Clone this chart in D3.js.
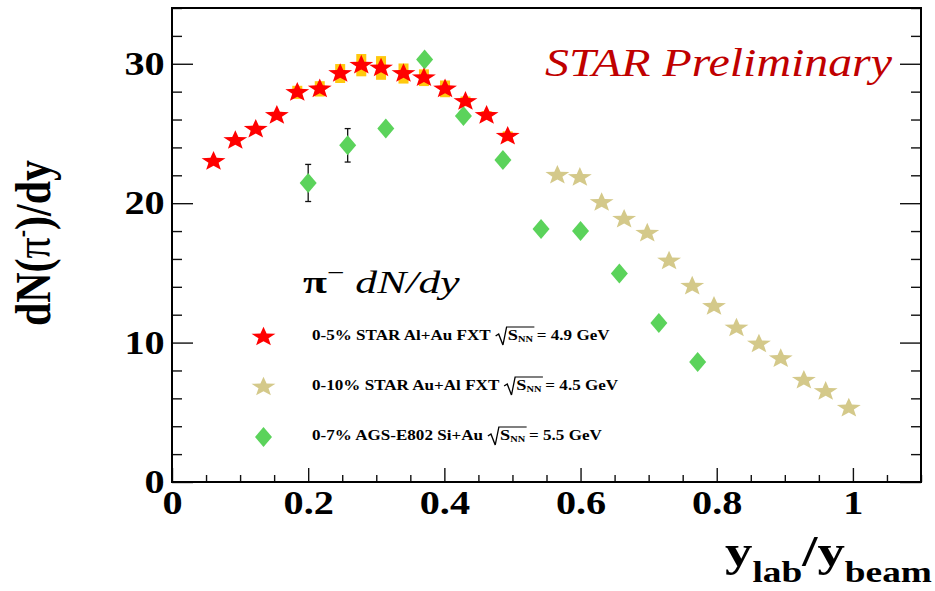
<!DOCTYPE html>
<html><head><meta charset="utf-8">
<script src="https://cdn.jsdelivr.net/npm/d3@7"></script>
<style>body{margin:0;background:#fff}svg{display:block}</style>
</head><body><svg id="c" width="935" height="591"></svg>
<script>
// ---------------- data ----------------
const xTickValues = [0, 0.2, 0.4, 0.6, 0.8, 1];
const xTickLabels = ["0", "0.2", "0.4", "0.6", "0.8", "1"];
const yTickValues = [0, 10, 20, 30];
const yTickLabels = ["0", "10", "20", "30"];

// 0-5% STAR Al+Au FXT (red stars) with systematic boxes
const alAuX   = [0.061, 0.093, 0.123, 0.154, 0.184, 0.217, 0.247, 0.278, 0.307, 0.340, 0.370, 0.401, 0.431, 0.462, 0.493];
const alAuY   = [23.0, 24.5, 25.3, 26.3, 27.95, 28.2, 29.3, 29.9, 29.7, 29.3, 29.0, 28.2, 27.3, 26.3, 24.8];
const alAuSys = [0.2, 0.2, 0.25, 0.25, 0.47, 0.55, 0.68, 0.8, 0.85, 0.72, 0.6, 0.6, 0.35, 0.3, 0.35];

// 0-10% STAR Au+Al FXT (tan stars)
const auAlX = [0.566, 0.599, 0.631, 0.664, 0.698, 0.730, 0.764, 0.796, 0.829, 0.862, 0.894, 0.928, 0.960, 0.994];
const auAlY = [22.0, 21.85, 20.05, 18.85, 17.85, 15.85, 14.05, 12.6, 11.05, 9.9, 8.85, 7.3, 6.5, 5.3];

// 0-7% AGS-E802 Si+Au (green diamonds)
const agsX   = [0.200, 0.258, 0.314, 0.371, 0.428, 0.486, 0.542, 0.600, 0.657, 0.715, 0.772];
const agsY   = [21.45, 24.15, 25.35, 30.3, 26.25, 23.1, 18.15, 18.0, 14.95, 11.4, 8.6];
const agsErr = [1.33, 1.2, 0.3, 0.3, 0.3, 0.3, 0.3, 0.3, 0.3, 0.3, 0.3];

const legendTexts    = ["0-5% STAR Al+Au FXT", "0-10% STAR Au+Al FXT", "0-7% AGS-E802 Si+Au"];
const legendEnergies = ["4.9", "4.5", "5.5"];

// ---------------- drawing ----------------
const M = {l: 172, r: 921, t: 8, b: 482};
const x = d3.scaleLinear().domain([0, 1.1]).range([M.l, M.r]);
const y = d3.scaleLinear().domain([0, 34]).range([M.b, M.t]);
const SX = 1.22;
const FONT = '"Liberation Serif", "Times New Roman", serif';
const RED = "#ff0000", TAN = "#d4c98a", GREEN = "#5bd35b", GOLD = "#ffc90e";
const svg = d3.select("#c");

function starPath(R) {
  const r = R * 0.42; let p = "";
  for (let i = 0; i < 10; i++) {
    const a = -Math.PI / 2 + i * Math.PI / 5, rr = i % 2 ? r : R;
    p += (i ? "L" : "M") + (rr * Math.cos(a)).toFixed(2) + "," + (rr * Math.sin(a)).toFixed(2);
  }
  return p + "Z";
}
const STAR = starPath(10.3);
const DIAMOND = "M0,-10L8.5,0L0,10L-8.5,0Z";

// axes
const yMinor = d3.range(0, 35, 2).filter(v => v % 10 !== 0);
const xMinor = d3.range(0, 23).map(i => i * 0.05).filter((v, i) => i % 4 !== 0);

function styleAxis(g) {
  g.select(".domain").remove();
  g.selectAll("line").attr("stroke", "#111").attr("stroke-width", 1.4);
  g.selectAll("text").attr("font-family", FONT).attr("font-weight", "bold")
    .attr("font-size", 33).attr("fill", "#000").attr("transform", `scale(${SX},1)`);
}
svg.append("g").attr("transform", `translate(${M.l},0)`)
  .call(d3.axisLeft(y).tickValues(yMinor).tickFormat("").tickSizeInner(-10).tickSizeOuter(0)).call(styleAxis);
svg.append("g").attr("transform", `translate(${M.l},0)`)
  .call(d3.axisLeft(y).tickValues(yTickValues).tickFormat((d, i) => yTickLabels[i]).tickSizeInner(-21).tickSizeOuter(0).tickPadding(6)).call(styleAxis);
svg.append("g").attr("transform", `translate(${M.r},0)`)
  .call(d3.axisRight(y).tickValues(yMinor).tickFormat("").tickSizeInner(-10).tickSizeOuter(0)).call(styleAxis);
svg.append("g").attr("transform", `translate(${M.r},0)`)
  .call(d3.axisRight(y).tickValues(yTickValues).tickFormat("").tickSizeInner(-21).tickSizeOuter(0)).call(styleAxis);
svg.append("g").attr("transform", `translate(0,${M.b})`)
  .call(d3.axisBottom(x).tickValues(xMinor).tickFormat("").tickSizeInner(-7).tickSizeOuter(0)).call(styleAxis);
svg.append("g").attr("transform", `translate(0,${M.b})`)
  .call(d3.axisBottom(x).tickValues(xTickValues).tickFormat((d, i) => xTickLabels[i]).tickSizeInner(-14).tickSizeOuter(0).tickPadding(9)).call(styleAxis);

svg.append("rect").attr("x", M.l).attr("y", M.t).attr("width", M.r - M.l).attr("height", M.b - M.t)
  .attr("fill", "none").attr("stroke", "#000").attr("stroke-width", 2);

// AGS diamonds with error bars
const ags = agsX.map((v, i) => ({x: v, y: agsY[i], e: agsErr[i]}));
const eb = svg.append("g").attr("stroke", "#111").attr("stroke-width", 1.3);
ags.forEach(d => {
  const cx = x(d.x), y1 = y(d.y + d.e), y2 = y(d.y - d.e);
  eb.append("line").attr("x1", cx).attr("x2", cx).attr("y1", y1).attr("y2", y2);
  eb.append("line").attr("x1", cx - 3).attr("x2", cx + 3).attr("y1", y1).attr("y2", y1);
  eb.append("line").attr("x1", cx - 3).attr("x2", cx + 3).attr("y1", y2).attr("y2", y2);
});
svg.append("g").selectAll("path").data(ags).join("path")
  .attr("d", DIAMOND).attr("fill", GREEN)
  .attr("transform", d => `translate(${x(d.x)},${y(d.y)})`);

// Al+Au sys boxes + red stars
const alAu = alAuX.map((v, i) => ({x: v, y: alAuY[i], s: alAuSys[i]}));
svg.append("g").selectAll("rect").data(alAu).join("rect")
  .attr("x", d => x(d.x) - 5).attr("width", 10)
  .attr("y", d => y(d.y + d.s)).attr("height", d => y(d.y - d.s) - y(d.y + d.s))
  .attr("fill", GOLD);
svg.append("g").selectAll("path").data(alAu).join("path")
  .attr("d", STAR).attr("fill", RED)
  .attr("transform", d => `translate(${x(d.x)},${y(d.y)}) scale(${SX},1)`);

// Au+Al tan stars
const auAl = auAlX.map((v, i) => ({x: v, y: auAlY[i]}));
svg.append("g").selectAll("path").data(auAl).join("path")
  .attr("d", STAR).attr("fill", TAN)
  .attr("transform", d => `translate(${x(d.x)},${y(d.y)}) scale(${SX},1)`);

// helper: fit text to width
function fitWidth(sel, x0, y0, target) {
  const w = sel.node().getBBox().width;
  sel.attr("transform", `translate(${x0},${y0}) scale(${target / w},1)`);
}

// STAR Preliminary
const sp = svg.append("text").attr("font-family", FONT).attr("font-style", "italic")
  .attr("font-size", 41).attr("fill", "#c00000").text("STAR Preliminary");
fitWidth(sp, 545, 76, 348);

// Y title
const yt = svg.append("text").attr("font-family", FONT).attr("font-weight", "bold").attr("font-size", 42)
  .attr("text-anchor", "middle").attr("transform", `translate(50,243) scale(${SX},1) rotate(-90)`);
yt.append("tspan").text("dN(");
yt.append("tspan").attr("font-weight", "normal").text("π");
yt.append("tspan").attr("font-size", 22).attr("dy", -16).text("-");
yt.append("tspan").attr("dy", 16).text(")/dy");

// X title
const xt = svg.append("text").attr("font-family", FONT).attr("font-weight", "bold").attr("font-size", 44);
xt.append("tspan").text("y");
xt.append("tspan").attr("font-size", 30).attr("dy", 16).text("lab");
xt.append("tspan").attr("dy", -16).text("/y");
xt.append("tspan").attr("font-size", 30).attr("dy", 16).text("beam");
fitWidth(xt, 725, 566, 207);

// Legend title
const lt = svg.append("text").attr("font-family", FONT).attr("font-size", 31);
lt.append("tspan").attr("font-weight", "bold").text("π");
lt.append("tspan").attr("font-size", 22).attr("dy", -13).text("\u2212");
lt.append("tspan").attr("dy", 13).attr("font-style", "italic").text(" dN/dy");
fitWidth(lt, 303, 293, 157);

// Legend entries
const legendMarks = [{p: STAR, c: RED, s: SX}, {p: STAR, c: TAN, s: SX}, {p: DIAMOND, c: GREEN, s: 1}];
const rowY = [340, 390, 440];
legendTexts.forEach((t, i) => {
  const m = legendMarks[i];
  svg.append("path").attr("d", m.p).attr("fill", m.c)
    .attr("transform", `translate(263.5,${rowY[i] - 3}) scale(${m.s},1)`);
  const g = svg.append("g").attr("transform", `translate(312,${rowY[i]}) scale(${SX},1)`)
    .attr("font-family", FONT).attr("font-weight", "bold");
  const t1 = g.append("text").attr("font-size", 14).text(t);
  const w = t1.node().getComputedTextLength();
  const rx = w + 4;
  const t2 = g.append("text").attr("x", rx + 10).attr("font-size", 15);
  t2.append("tspan").text("S");
  t2.append("tspan").attr("font-size", 8.5).attr("dy", 2).text("NN");
  const ww = t2.node().getBBox().width;
  g.append("path")
    .attr("d", `M${rx},-4L${rx + 2.5},-6L${rx + 6},5L${rx + 9},-13L${rx + 10 + ww + 1},-13`)
    .attr("fill", "none").attr("stroke", "#000").attr("stroke-width", 1.1);
  g.append("text").attr("x", rx + 10 + ww + 3).attr("font-size", 14).text("= " + legendEnergies[i] + " GeV");
});
</script></body></html>
